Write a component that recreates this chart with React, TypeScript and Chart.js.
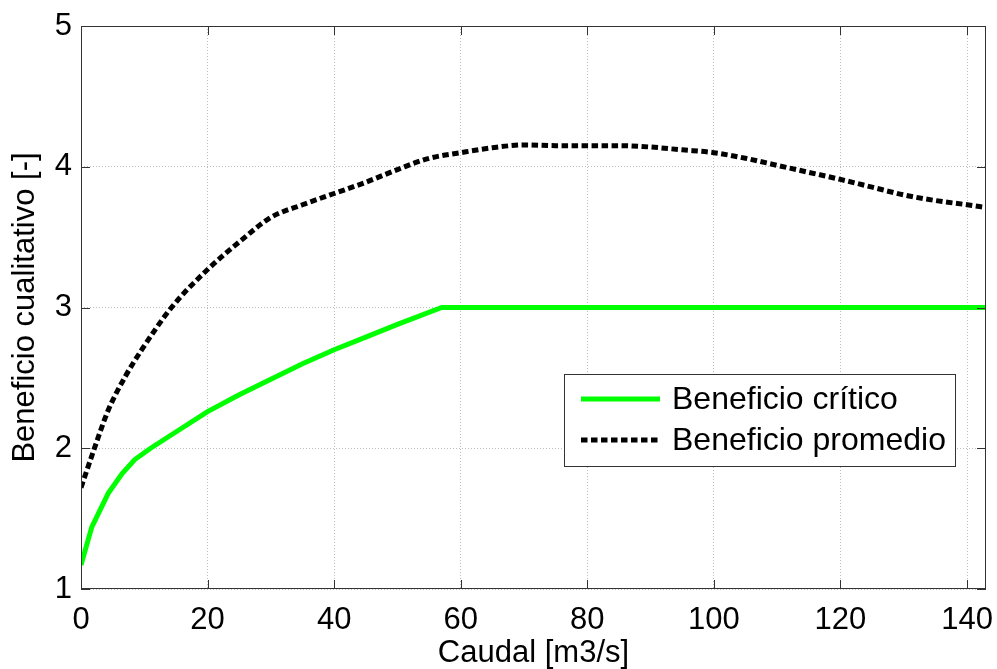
import React, { useEffect, useRef } from "react";
import { Chart, registerables } from "chart.js";

Chart.register(...registerables);

// ---- Data ----
const caudalCritico = [0, 1.7, 4.3, 6.5, 8.5, 11, 14.8, 20, 25, 30, 35, 40, 45, 50, 57, 60, 80, 100, 120, 143];
const beneficioCritico = [1.17, 1.44, 1.68, 1.82, 1.92, 2.0, 2.11, 2.26, 2.38, 2.49, 2.6, 2.7, 2.79, 2.88, 3.0, 3.0, 3.0, 3.0, 3.0, 3.0];

const caudalPromedio = [0, 2.2, 4.3, 7, 9.6, 14.3, 20, 25.4, 30, 35, 40, 45, 50, 55, 60, 65, 70, 75, 80, 85, 90, 95, 100, 105, 110, 115, 120, 125, 130, 135, 140, 143];
const beneficioPromedio = [1.72, 2.01, 2.27, 2.51, 2.7, 3.0, 3.27, 3.48, 3.64, 3.73, 3.81, 3.89, 3.98, 4.06, 4.1, 4.135, 4.155, 4.15, 4.15, 4.15, 4.14, 4.12, 4.1, 4.06, 4.01, 3.96, 3.91, 3.855, 3.8, 3.76, 3.73, 3.71];

const seriesLabels = ["Beneficio crítico", "Beneficio promedio"];
const xTickValues = [0, 20, 40, 60, 80, 100, 120, 140];
const yTickValues = [1, 2, 3, 4, 5];
const xTitle = "Caudal [m3/s]";
const yTitle = "Beneficio cualitativo [-]";
const xMin = 0;
const xMax = 143;
const yMin = 1;
const yMax = 5;

const FONT = "'Liberation Sans', Arial, Helvetica, sans-serif";

const framePlugin = {
  id: "matlabFrame",
  afterDraw(chart: any) {
    const { ctx, chartArea, scales } = chart;
    const { left, right, top, bottom } = chartArea;
    ctx.save();
    ctx.strokeStyle = "#333";
    ctx.lineWidth = 1;
    ctx.setLineDash([]);
    ctx.strokeRect(left + 0.5, top + 0.5, right - left - 1, bottom - top - 1);
    const tl = 9;
    ctx.beginPath();
    xTickValues.forEach((v) => {
      const x = Math.round(scales.x.getPixelForValue(v)) + 0.5;
      ctx.moveTo(x, bottom);
      ctx.lineTo(x, bottom - tl);
      ctx.moveTo(x, top);
      ctx.lineTo(x, top + tl);
    });
    yTickValues.forEach((v) => {
      const y = Math.round(scales.y.getPixelForValue(v)) + 0.5;
      ctx.moveTo(left, y);
      ctx.lineTo(left + tl, y);
      ctx.moveTo(right, y);
      ctx.lineTo(right - tl, y);
    });
    ctx.stroke();

    // legend box
    const bx = right - 422;
    const by = top + 348;
    const bw = 391;
    const bh = 92;
    ctx.fillStyle = "#fff";
    ctx.fillRect(bx, by, bw, bh);
    ctx.strokeStyle = "#333";
    ctx.lineWidth = 1;
    ctx.strokeRect(bx + 0.5, by + 0.5, bw, bh);
    const rows = [by + 25, by + 66];
    chart.data.datasets.forEach((ds: any, i: number) => {
      const y = rows[i];
      ctx.save();
      ctx.strokeStyle = ds.borderColor;
      ctx.lineWidth = ds.borderWidth;
      ctx.lineCap = "butt";
      ctx.setLineDash(ds.borderDash || []);
      ctx.beginPath();
      ctx.moveTo(bx + 17, y);
      ctx.lineTo(bx + 96, y);
      ctx.stroke();
      ctx.restore();
      ctx.fillStyle = "#000";
      ctx.font = `32px ${FONT}`;
      ctx.textBaseline = "middle";
      ctx.textAlign = "left";
      ctx.fillText(ds.label, bx + 108, y + 1);
    });
    ctx.restore();
  },
};

export default function App() {
  const canvasRef = useRef<HTMLCanvasElement | null>(null);

  useEffect(() => {
    if (!canvasRef.current) return;
    const chart = new Chart(canvasRef.current, {
      type: "line",
      data: {
        datasets: [
          {
            label: seriesLabels[0],
            data: caudalCritico.map((x, i) => ({ x, y: beneficioCritico[i] })),
            borderColor: "#00ff00",
            borderWidth: 5,
            pointRadius: 0,
            tension: 0,
            fill: false,
          },
          {
            label: seriesLabels[1],
            data: caudalPromedio.map((x, i) => ({ x, y: beneficioPromedio[i] })),
            borderColor: "#000000",
            borderWidth: 5,
            borderDash: [6.5, 3.5],
            borderCapStyle: "butt",
            pointRadius: 0,
            cubicInterpolationMode: "monotone",
            fill: false,
          },
        ],
      },
      options: {
        animation: false,
        responsive: false,
        maintainAspectRatio: false,
        layout: { padding: { top: 26, right: 11, left: 0, bottom: 0 } },
        plugins: {
          legend: { display: false },
          tooltip: { enabled: false },
        },
        scales: {
          x: {
            type: "linear",
            min: xMin,
            max: xMax,
            afterBuildTicks: (s: any) => {
              s.ticks = xTickValues.map((v) => ({ value: v }));
            },
            afterFit: (s: any) => {
              s.height = 80;
              s.paddingLeft = 0;
              s.paddingRight = 0;
            },
            ticks: {
              font: { family: FONT, size: 31 },
              color: "#000",
              padding: 13,
              maxRotation: 0,
              autoSkip: false,
            },
            grid: { color: "#bdbdbd", lineWidth: 1, drawTicks: false },
            border: { display: false, dash: [1, 2] },
            title: {
              display: true,
              text: xTitle,
              color: "#000",
              font: { family: FONT, size: 31, lineHeight: 1 },
              padding: { top: 0, bottom: 0 },
            },
          },
          y: {
            type: "linear",
            min: yMin,
            max: yMax,
            afterBuildTicks: (s: any) => {
              s.ticks = yTickValues.map((v) => ({ value: v }));
            },
            afterFit: (s: any) => {
              s.width = 81;
              s.paddingTop = 0;
              s.paddingBottom = 0;
            },
            ticks: {
              font: { family: FONT, size: 31 },
              color: "#000",
              padding: 9,
            },
            grid: { color: "#bdbdbd", lineWidth: 1, drawTicks: false },
            border: { display: false, dash: [1, 2] },
            title: {
              display: true,
              text: yTitle,
              color: "#000",
              font: { family: FONT, size: 31, lineHeight: 1 },
              padding: { top: 10, bottom: 0 },
            },
          },
        },
      },
      plugins: [framePlugin],
    } as any);
    return () => chart.destroy();
  }, []);

  return (
    <div style={{ position: "fixed", left: 0, top: 0, width: 997, height: 669, background: "#fff" }}>
      <canvas ref={canvasRef} width={997} height={669} style={{ width: 997, height: 669, display: "block" }} />
    </div>
  );
}
